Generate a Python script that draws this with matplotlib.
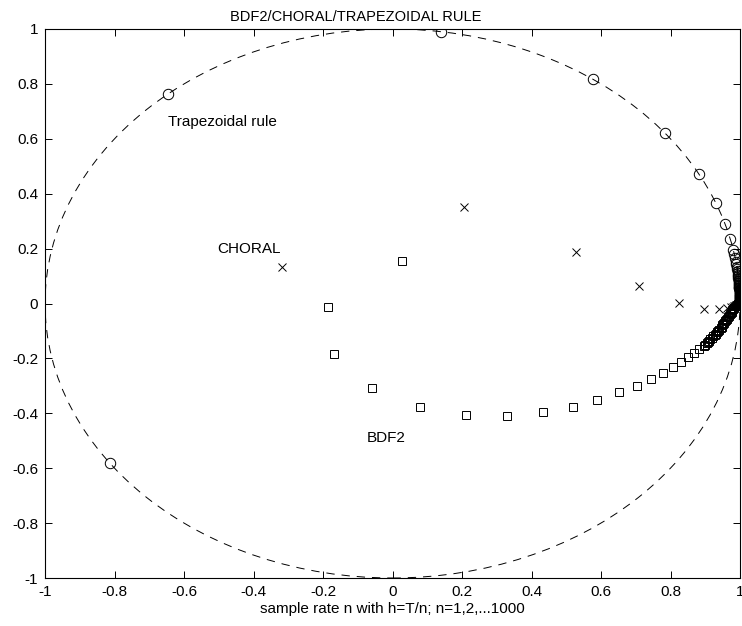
import numpy as np
import matplotlib
matplotlib.use('Agg')
import matplotlib.pyplot as plt
from matplotlib.patches import Circle

plt.rcParams['font.family'] = ['Liberation Sans', 'DejaVu Sans']
plt.rcParams['lines.scale_dashes'] = False

# trapezoidal rule: points on the unit circle, angle in degrees
trap_angle = [-144.4, 130.2, 82.0, 54.8, 38.4, 28.2, 21.5, 16.8, 13.5, 11.2,
              10.3, 9.5, 8.8, 8.2, 7.7, 7.2, 6.8, 6.4, 6.0, 5.7, 5.4, 5.1,
              4.9, 4.6, 4.4, 4.2, 4.0, 3.8, 3.6, 3.5, 3.3, 3.2, 3.0, 2.9,
              2.8, 2.6, 2.5, 2.4, 2.3, 2.2, 2.0, 1.9, 1.8, 1.7, 1.6, 1.5,
              1.4, 1.3, 1.2, 1.1, 1.0, 0.9, 0.8, 0.7, 0.6, 0.5, 0.4, 0.3,
              0.2, 0.1]

# CHORAL
choral_x = [-0.318, 0.206, 0.528, 0.709, 0.824, 0.896, 0.939, 0.962, 0.974,
            0.979, 0.983, 0.986, 0.989, 0.991, 0.993, 0.994, 0.995, 0.996,
            0.997, 0.998, 0.999]
choral_y = [0.133, 0.352, 0.188, 0.064, 0.002, -0.020, -0.020, -0.016, -0.013,
            -0.011, -0.009, -0.008, -0.006, -0.005, -0.004, -0.003, -0.003,
            -0.002, -0.002, -0.001, -0.001]

# BDF2
bdf2_x = [0.027, -0.186, -0.168, -0.059, 0.079, 0.212, 0.329, 0.433, 0.519,
          0.588, 0.652, 0.704, 0.744, 0.779, 0.807, 0.830, 0.850, 0.867, 0.881,
          0.896, 0.900, 0.904, 0.908, 0.912, 0.915, 0.919, 0.923, 0.927, 0.931,
          0.934, 0.938, 0.941, 0.944, 0.947, 0.949, 0.952, 0.955, 0.957, 0.960,
          0.962, 0.965, 0.968, 0.970, 0.973, 0.976, 0.978, 0.981, 0.984, 0.988,
          0.992, 0.995, 0.998]
bdf2_y = [0.155, -0.013, -0.184, -0.308, -0.377, -0.406, -0.410, -0.395, -0.377,
          -0.352, -0.322, -0.301, -0.275, -0.253, -0.231, -0.213, -0.195, -0.180,
          -0.166, -0.155, -0.150, -0.145, -0.140, -0.135, -0.130, -0.125, -0.120,
          -0.115, -0.110, -0.105, -0.100, -0.095, -0.090, -0.085, -0.080, -0.075,
          -0.070, -0.065, -0.060, -0.055, -0.050, -0.045, -0.040, -0.035, -0.030,
          -0.025, -0.020, -0.015, -0.010, -0.005, -0.002, 0.000]

ticks = [-1, -0.8, -0.6, -0.4, -0.2, 0, 0.2, 0.4, 0.6, 0.8, 1]
tick_labels = ['-1', '-0.8', '-0.6', '-0.4', '-0.2', '0', '0.2', '0.4', '0.6', '0.8', '1']

th = np.deg2rad(trap_angle)
trap_x = np.cos(th)
trap_y = np.sin(th)

fig = plt.figure(figsize=(7.42, 6.26), dpi=100)
ax = fig.add_axes([45 / 742, 48 / 626, 695 / 742, 549 / 626])

ax.add_patch(Circle((0, 0), 1, fill=False, ec='k', lw=0.7, ls=(0, (6, 5))))
ax.plot(trap_x, trap_y, 'o', mfc='none', mec='k', ms=7.5, mew=0.7)
ax.plot(choral_x, choral_y, 'x', color='k', ms=5.5, mew=0.7)
ax.plot(bdf2_x, bdf2_y, 's', mfc='none', mec='k', ms=6, mew=0.7)

ax.text(-0.645, 0.661, 'Trapezoidal rule', fontsize=11, va='center')
ax.text(-0.505, 0.199, 'CHORAL', fontsize=11, va='center')
ax.text(-0.073, -0.490, 'BDF2', fontsize=11, va='center')

ax.set_xlim(-1, 1)
ax.set_ylim(-1, 1)
ax.set_xticks(ticks)
ax.set_xticklabels(tick_labels)
ax.set_yticks(ticks)
ax.set_yticklabels(tick_labels)
ax.tick_params(direction='in', top=True, right=True, length=5, width=0.7,
               labelsize=11, pad=5)
for s in ax.spines.values():
    s.set_linewidth(0.8)

ax.set_xlabel('sample rate n with h=T/n; n=1,2,...1000', fontsize=11, labelpad=2)
ax.set_title('BDF2/CHORAL/TRAPEZOIDAL RULE', fontsize=10.5, x=0.447, pad=6)

fig.savefig('out.png', dpi=100)
